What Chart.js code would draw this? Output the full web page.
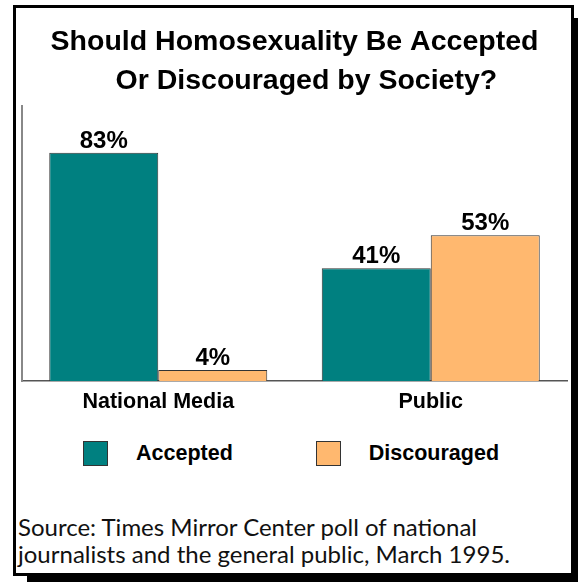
<!DOCTYPE html>
<html>
<head>
<meta charset="utf-8">
<script src="https://cdn.jsdelivr.net/npm/chart.js@4.4.1/dist/chart.umd.min.js"></script>
<style>
  html, body { margin: 0; padding: 0; background: #fff; }
  body { width: 578px; height: 582px; position: relative; overflow: hidden; }
  #frame { position: absolute; left: 13px; top: 5px; width: 555px; height: 565px;
           border: 3px solid #000; box-shadow: 14px 13px 0 0 #000; background: #fff; }
  #chart { position: absolute; left: 0; top: 0; }
  #legend { position: absolute; left: 83px; top: 441px; display: flex; align-items: center;
            font-family: "Liberation Sans", Arial, sans-serif; font-weight: bold; font-size: 21.5px; color: #000; }
  .item { display: flex; align-items: center; margin-right: 83px; }
  .swatch { width: 25px; height: 25px; box-sizing: border-box; border: 1px solid #333; margin-right: 28px; }
  #source { position: absolute; left: 18px; top: 513px; font-family: Lato, "Open Sans", sans-serif;
            font-size: 24px; line-height: 27px; color: #111; white-space: nowrap; }
</style>
</head>
<body>
<div id="frame"></div>
<canvas id="chart" width="578" height="430"></canvas>
<div id="legend"></div>
<div id="source"></div>
<script>
// ---- data ----
const categories = ['National Media', 'Public'];
const seriesNames = ['Accepted', 'Discouraged'];
const acceptedValues = [83, 41];
const discouragedValues = [4, 53];
const titleLines = ['Should Homosexuality Be Accepted', '   Or Discouraged by Society?'];
const sourceLines = ['Source: Times Mirror Center poll of national',
                     'journalists and the general public, March 1995.'];

// ---- styles ----
const seriesColors = ['#008080', '#FFB86F'];
const boldFamily = '"Liberation Sans", Arial, Helvetica, sans-serif';

const valueLabels = {
  id: 'valueLabels',
  afterDatasetsDraw(chart) {
    const ctx = chart.ctx;
    ctx.save();
    ctx.font = 'bold 24px ' + boldFamily;
    ctx.fillStyle = '#000';
    ctx.textAlign = 'center';
    ctx.textBaseline = 'alphabetic';
    chart.data.datasets.forEach((ds, di) => {
      chart.getDatasetMeta(di).data.forEach((bar, i) => {
        ctx.fillText(ds.data[i] + '%', bar.x, bar.y - 5);
      });
    });
    ctx.restore();
  }
};

const chart = new Chart(document.getElementById('chart'), {
  type: 'bar',
  data: {
    labels: categories,
    datasets: [
      { label: seriesNames[0], data: acceptedValues, backgroundColor: seriesColors[0],
        borderColor: '#333', borderWidth: 1 },
      { label: seriesNames[1], data: discouragedValues, backgroundColor: seriesColors[1],
        borderColor: '#333', borderWidth: 1 }
    ]
  },
  options: {
    responsive: false,
    animation: false,
    devicePixelRatio: 1,
    layout: { padding: { left: 22, right: 11, top: 0, bottom: 7.2 } },
    datasets: { bar: { categoryPercentage: 0.8, barPercentage: 1.0 } },
    scales: {
      x: {
        grid: { display: false, drawTicks: false },
        border: { display: true, color: '#555', width: 1.5 },
        ticks: { color: '#000', padding: 8, font: { family: boldFamily, size: 21.5, weight: 'bold' } }
      },
      y: {
        min: 0, max: 100,
        grid: { display: false, drawTicks: false },
        border: { display: true, color: '#888', width: 2 },
        ticks: { display: false }
      }
    },
    plugins: {
      legend: { display: false },
      tooltip: { enabled: false },
      title: {
        display: true,
        text: titleLines,
        color: '#000',
        font: { family: boldFamily, size: 28.5, weight: 'bold', lineHeight: '39px' },
        padding: { top: 22.3, bottom: 5.7 }
      }
    }
  },
  plugins: [valueLabels]
});

// HTML legend built from the chart's datasets
const legend = document.getElementById('legend');
chart.data.datasets.forEach((ds) => {
  const item = document.createElement('div');
  item.className = 'item';
  const sw = document.createElement('span');
  sw.className = 'swatch';
  sw.style.background = ds.backgroundColor;
  const tx = document.createElement('span');
  tx.textContent = ds.label;
  item.appendChild(sw);
  item.appendChild(tx);
  legend.appendChild(item);
});

const source = document.getElementById('source');
sourceLines.forEach((line, i) => {
  if (i) source.appendChild(document.createElement('br'));
  source.appendChild(document.createTextNode(line));
});
</script>
</body>
</html>
